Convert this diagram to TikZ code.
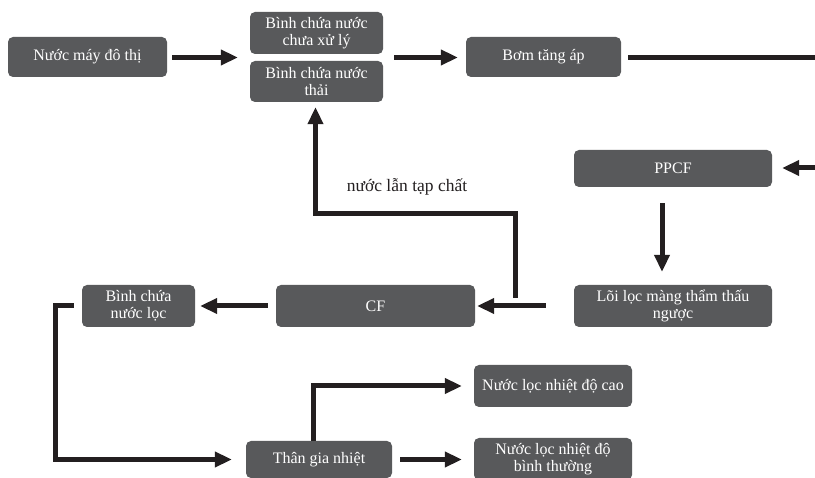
\documentclass[tikz,border=0pt]{standalone}
\usepackage{fontspec}
\setmainfont{Liberation Serif}
\usepackage{xcolor}
\usepackage{tikz}
\usetikzlibrary{arrows.meta,calc}

\definecolor{boxgray}{RGB}{88,89,91}
\definecolor{ink}{RGB}{35,31,32}

\tikzset{
  stage/.style={fill=boxgray, rounded corners=5pt, text=white, align=center,
    inner sep=0pt, font=\fontsize{16}{17.5}\selectfont},
  pipe/.style={draw=ink, line width=5pt},
  flow/.style={pipe, -{Triangle[length=17pt,width=15pt]}},
}

\begin{document}
\begin{tikzpicture}[x=1pt,y=-1pt]
        \useasboundingbox (0,0) rectangle (815,478);
        \clip (0,0) rectangle (815,478);

        % top row
        \node[stage, minimum width=159pt, minimum height=40pt] (tap) at (87.5,57) {Nước máy đô thị};
        \node[stage, minimum width=133pt, minimum height=42pt] (raw) at (316.5,33) {Bình chứa nước\\chưa xử lý};
        \node[stage, minimum width=133pt, minimum height=41pt] (waste) at (316.5,81.5) {Bình chứa nước\\thải};
        \node[stage, minimum width=155pt, minimum height=40pt] (pump) at (543.5,57) {Bơm tăng áp};
        \coordinate (tanks) at ($(raw.south west)!0.5!(waste.north west)$);
        \coordinate (tanksE) at ($(raw.south east)!0.5!(waste.north east)$);

        % right column
        \node[stage, minimum width=198pt, minimum height=37pt] (ppcf) at (673,168.5) {PPCF};
        \node[stage, minimum width=198pt, minimum height=42pt] (ro) at (673,306) {Lõi lọc màng thẩm thấu\\ngược};
        \coordinate (edgeA) at (815,58);
        \coordinate (edgeB) at (815,168);

        % middle row
        \node[stage, minimum width=199pt, minimum height=42pt] (cf) at (375.5,306) {CF};
        \node[stage, minimum width=113pt, minimum height=42pt] (store) at (138.5,306) {Bình chứa\\nước lọc};
        \node[font=\fontsize{17.5}{19}\selectfont, text=ink] (dirty) at (407,187) {nước lẫn tạp chất};
        \coordinate (branch) at (515,298);

        % bottom
        \node[stage, minimum width=146pt, minimum height=37pt] (heater) at (319,459.5) {Thân gia nhiệt};
        \node[stage, minimum width=158pt, minimum height=42pt] (hot) at (553,386) {Nước lọc nhiệt độ cao};
        \node[stage, minimum width=158pt, minimum height=42pt] (normal) at (553,459) {Nước lọc nhiệt độ\\bình thường};

        \draw[flow, shorten <=5pt, shorten >=12pt] (tap.east |- tanks) -- (tanks);
        \draw[flow, shorten <=11pt, shorten >=8pt] (tanksE) -- (pump.west |- tanksE);
        \draw[pipe, shorten <=7pt] (pump.east |- edgeA) -- (edgeA);
        \draw[flow, shorten >=10pt] (edgeB) -- (ppcf.east |- edgeB);
        \draw[flow, shorten <=16pt, shorten >=13pt] (ppcf.south -| 662,0) -- (ro.north -| 662,0);
        \draw[flow, shorten <=28pt, shorten >=2pt] (ro.west) -- (cf.east);
        \draw[flow, shorten >=5pt] (branch) -- (515,214) -| ($(waste.south)+(-1,0)$);
        \draw[flow, shorten <=8pt, shorten >=5pt] (cf.west) -- (store.east);
        \draw[flow, shorten <=8pt, shorten >=14pt] (store.west) -- (55,306) |- (heater.west);
        \draw[flow, shorten >=12pt] (heater.north -| 313,0) |- (hot.west);
        \draw[flow, shorten <=8pt, shorten >=12pt] (heater.east) -- (normal.west |- heater.east);
    \end{tikzpicture}
\end{document}
